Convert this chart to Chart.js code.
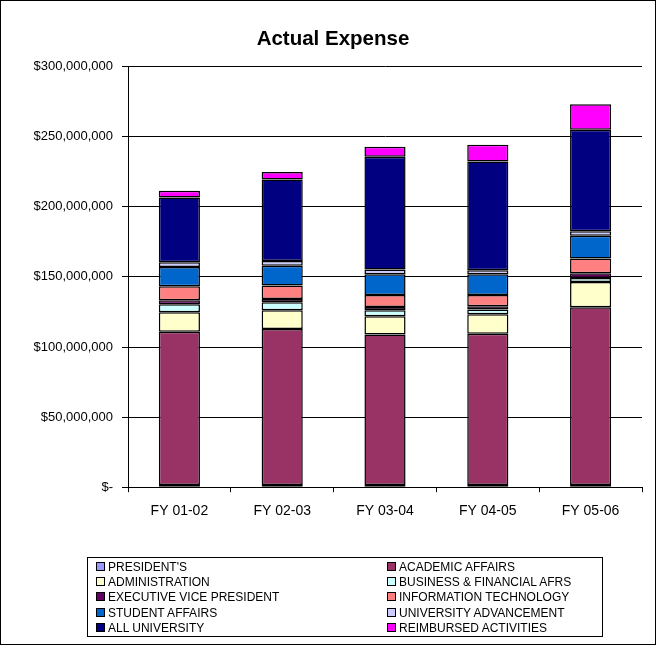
<!DOCTYPE html>
<html lang="en">
<head>
    <meta charset="UTF-8">
    <title>Actual Expense</title>
    <script src="https://cdn.jsdelivr.net/npm/chart.js"></script>
    <style>
        body { margin: 0; background: #fff; }
        #wrap { position: relative; width: 656px; height: 645px; }
        #frame {
            position: absolute; left: 0; top: 0; width: 656px; height: 645px;
            border: 1px solid #000; box-sizing: border-box; pointer-events: none;
        }
        #legend {
            position: absolute; left: 87px; top: 557px; width: 516px; height: 80px;
            border: 1px solid #000; box-sizing: border-box;
            display: grid; grid-template-columns: 291px 1fr;
            padding: 2px 0 0 8px;
            font: 12px "Liberation Sans", Arial, sans-serif; color: #000;
        }
        #legend div { height: 15.2px; line-height: 15.2px; white-space: nowrap; }
        #legend span {
            display: inline-block; width: 7px; height: 7px; border: 1px solid #000;
            margin-right: 3px; vertical-align: 0px; box-sizing: content-box;
        }
    </style>
</head>
<body>
    <div id="wrap">
        <canvas id="myChart" width="656" height="645"></canvas>
        <div id="legend"></div>
        <div id="frame"></div>
    </div>

    <script>
        const years = ['FY 01-02', 'FY 02-03', 'FY 03-04', 'FY 04-05', 'FY 05-06'];

        const presidents   = [1500000, 1500000, 1500000, 1500000, 1500000];
        const academic     = [109400000, 111400000, 107500000, 108000000, 126900000];
        const administration = [13900000, 13300000, 12900000, 13800000, 18000000];
        const business     = [5700000, 5700000, 4300000, 3400000, 2900000];
        const execVP       = [2900000, 2400000, 2400000, 2400000, 3300000];
        const infoTech     = [10000000, 9500000, 8500000, 8000000, 10500000];
        const studentAff   = [13700000, 14200000, 14800000, 14800000, 16200000];
        const univAdv      = [3400000, 3400000, 3300000, 2900000, 3300000];
        const allUniv      = [46200000, 58100000, 80500000, 77600000, 72400000];
        const reimbursed   = [4700000, 5300000, 7200000, 11900000, 18100000];

        const yTicks = [0, 50000000, 100000000, 150000000, 200000000, 250000000, 300000000];

        const font = '"Liberation Sans", Arial, sans-serif';

        function ds(label, data, color) {
            return {
                label: label,
                data: data,
                backgroundColor: color,
                borderColor: '#000',
                borderWidth: 1.5,
                borderSkipped: false,
                barPercentage: 0.4,
                categoryPercentage: 1.0
            };
        }

        const config = {
            type: 'bar',
            data: {
                labels: years,
                datasets: [
                    ds("PRESIDENT'S", presidents, '#9999FF'),
                    ds('ACADEMIC AFFAIRS', academic, '#993366'),
                    ds('ADMINISTRATION', administration, '#FFFFCC'),
                    ds('BUSINESS & FINANCIAL AFRS', business, '#CCFFFF'),
                    ds('EXECUTIVE VICE PRESIDENT', execVP, '#660066'),
                    ds('INFORMATION TECHNOLOGY', infoTech, '#FF8080'),
                    ds('STUDENT AFFAIRS', studentAff, '#0066CC'),
                    ds('UNIVERSITY ADVANCEMENT', univAdv, '#CCCCFF'),
                    ds('ALL UNIVERSITY', allUniv, '#000080'),
                    ds('REIMBURSED ACTIVITIES', reimbursed, '#FF00FF')
                ]
            },
            options: {
                responsive: false,
                animation: false,
                layout: { padding: { left: 24, right: 14, top: 0, bottom: 114 } },
                plugins: {
                    legend: { display: false },
                    tooltip: { enabled: false },
                    title: {
                        display: true,
                        text: 'Actual Expense',
                        color: '#000',
                        font: { family: font, size: 20.5, weight: 'bold' },
                        padding: { top: 27, bottom: 15 }
                    }
                },
                scales: {
                    x: {
                        stacked: true,
                        grid: { display: true, drawOnChartArea: false, color: '#000', tickLength: 5, offset: true },
                        border: { color: '#000', width: 1 },
                        ticks: { color: '#000', font: { family: font, size: 14 }, padding: 11 }
                    },
                    y: {
                        stacked: true,
                        min: 0,
                        max: 300000000,
                        afterBuildTicks: (scale) => { scale.ticks = yTicks.map(v => ({ value: v })); },
                        afterFit: (scale) => { scale.width = 104; },
                        grid: { color: '#000', lineWidth: 1, tickLength: 6 },
                        border: { color: '#000', width: 1 },
                        ticks: {
                            color: '#000',
                            font: { family: font, size: 13 },
                            padding: 9,
                            callback: (v) => v === 0 ? '$-' : '$' + v.toLocaleString('en-US')
                        }
                    }
                }
            }
        };

        const ctx = document.getElementById('myChart').getContext('2d');
        const myChart = new Chart(ctx, config);

        // html legend, two columns like the original
        const legendEl = document.getElementById('legend');
        myChart.data.datasets.forEach(d => {
            const item = document.createElement('div');
            const box = document.createElement('span');
            box.style.background = d.backgroundColor;
            item.appendChild(box);
            item.appendChild(document.createTextNode(d.label));
            legendEl.appendChild(item);
        });
    </script>
</body>
</html>
